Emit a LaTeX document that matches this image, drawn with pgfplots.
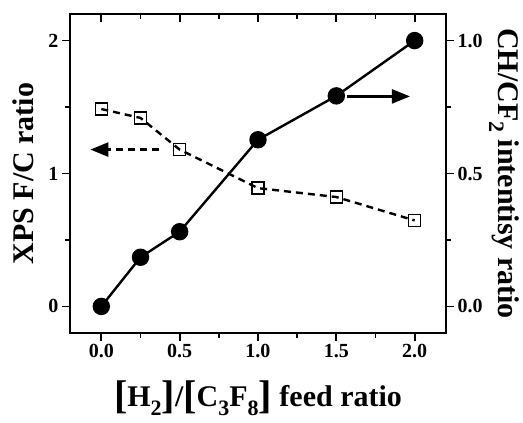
\documentclass[border=0pt]{standalone}
\usepackage{pgfplots}
\pgfplotsset{compat=1.18}
\usepackage{fontspec}
\setmainfont{Liberation Serif}
\usetikzlibrary{arrows.meta,calc}

% data
\pgfplotstableread{
x    fc
0.00 1.485
0.25 1.418
0.50 1.180
1.00 0.890
1.50 0.823
2.00 0.647
}\fcdata
\pgfplotstableread{
x    ch
0.00 0.000
0.25 0.185
0.50 0.281
1.00 0.627
1.50 0.792
2.00 1.000
}\chdata

\newcommand\lbr[1]{{\fontsize{40}{40}\selectfont\raisebox{-0.05em}{#1}}}
\newcommand\sub[1]{\raisebox{-0.3em}{\fontsize{22}{22}\selectfont #1}}

\pgfplotsset{
  common/.style={
    width=376pt, height=319pt, scale only axis,
    at={(0,0)}, anchor=south west,
    xmin=-0.2, xmax=2.2,
    axis line style={line width=2.2pt},
    tick style={line width=1.8pt, black},
    major tick length=8pt, minor tick length=5pt,
    tick label style={font=\fontsize{20}{24}\selectfont\bfseries},
    /pgf/number format/assume math mode=true,
    label style={font=\fontsize{30}{34}\selectfont\bfseries},
  }
}

\begin{document}
\begin{tikzpicture}
\useasboundingbox (-70pt,-90pt) rectangle (453pt,333pt);
% left axis, bottom ticks
\begin{axis}[common,
  ymin=-0.2, ymax=2.2,
  tick align=outside,
  xtick pos=bottom, ytick pos=left,
  xtick={0,0.5,...,2}, minor xtick={0.25,0.75,...,1.75},
  ytick={0,1,2}, minor ytick={0.5,1.5},
  xticklabel style={/pgf/number format/.cd,fixed,fixed zerofill,precision=1},
  xlabel={\lbr{[}H\sub{2}\lbr{]}/\lbr{[}C\sub{3}F\sub{8}\lbr{]} feed ratio},
  xlabel style={at={(rel axis cs:0.5,0)}, anchor=base, yshift=-74pt},
  ylabel={XPS F/C ratio},
  ylabel style={at={($(rel axis cs:0,0.5)+(-47pt,0)$)}, anchor=center},
  clip=false,
]
\addplot[line width=2.4pt, dash pattern=on 7pt off 5pt,
  mark=square, mark size=6pt,
  mark options={solid, line width=1.6pt, fill=white}]
  table[x=x, y=fc] {\fcdata};
\draw[line width=2.4pt, dash pattern=on 7pt off 5pt,
  -{Triangle[length=18pt,width=14pt]}]
  (axis cs:0.37,1.18) -- (axis cs:-0.07,1.18);
\end{axis}
% top ticks pointing inward
\begin{axis}[common,
  ymin=-0.2, ymax=2.2,
  tick align=inside,
  xtick pos=top, ytick=\empty,
  xtick={0,0.5,...,2}, minor xtick={0.25,0.75,...,1.75},
  xticklabels={},
]
\end{axis}
% right axis
\begin{axis}[common,
  ymin=-0.1, ymax=1.1,
  tick align=outside,
  axis x line=none,
  axis y line*=right,
  ytick={0,0.5,1}, minor ytick={0.25,0.75},
  yticklabel style={/pgf/number format/.cd,fixed,fixed zerofill,precision=1},
  ylabel={CH/CF\sub{2} intentisy ratio},
  ylabel style={at={($(rel axis cs:1,0.5)+(58pt,0)$)}, anchor=center, rotate=180},
  clip=false,
]
\addplot[line width=2.4pt, mark=*, mark size=7.5pt]
  table[x=x, y=ch] {\chdata};
\draw[line width=2.4pt, -{Triangle[length=18pt,width=14pt]}]
  (axis cs:1.57,0.79) -- (axis cs:1.97,0.79);
\end{axis}
\end{tikzpicture}
\end{document}
